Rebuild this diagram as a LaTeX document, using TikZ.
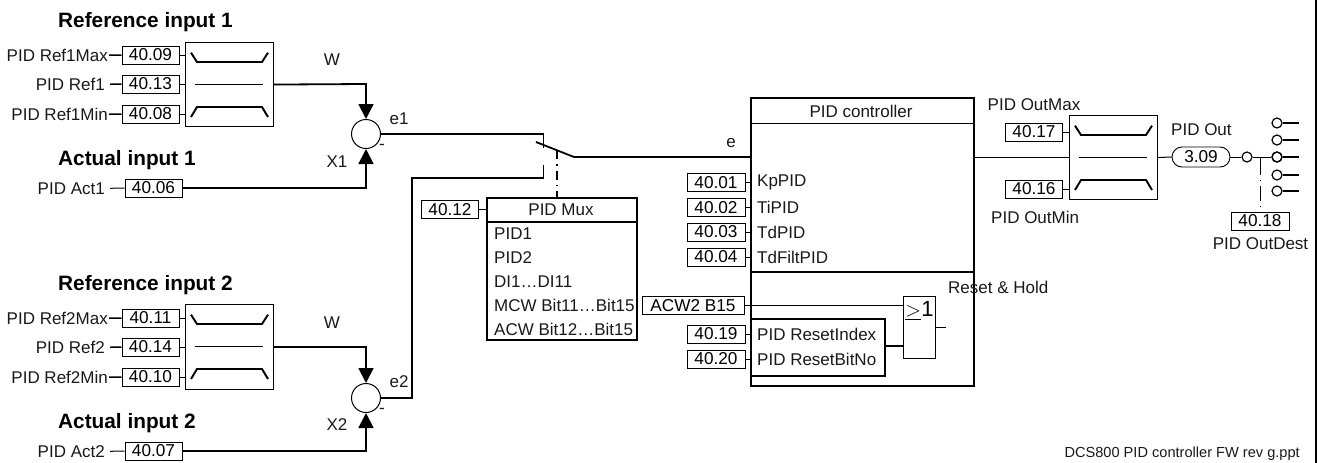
\documentclass[tikz,border=0pt]{standalone}
\usepackage{fontspec}
\setmainfont{Liberation Sans}
\usetikzlibrary{arrows.meta,shapes.misc}
\tikzset{
  x=1pt,y=-1pt,
  lab/.style={inner sep=0pt,font=\fontsize{17}{19}\selectfont,text=black!90},
  title/.style={inner sep=0pt,anchor=west,font=\fontsize{20.8}{23}\bfseries\selectfont},
  parbox/.style={draw,line width=1pt,minimum width=#1,minimum height=18pt,inner sep=0pt,font=\fontsize{17.2}{19}\selectfont,anchor=center},
  parbox/.default=57pt,
  thick line/.style={line width=1.5pt},
  thin line/.style={line width=1pt},
  wire/.style={line width=1.8pt},
  arr/.style={wire,-{Triangle[length=15pt,width=15pt]},shorten >=0pt},
  lim/.style={draw,line width=1.1pt,inner sep=0pt,anchor=north west},
  sumc/.style={circle,draw,line width=1pt,minimum size=29pt,inner sep=0pt},
  pin/.style={circle,draw,line width=1.2pt,minimum size=10pt,inner sep=0pt},
  frame/.style={draw,line width=1.6pt,inner sep=0pt,anchor=north west},
}
\newcommand{\limshape}[2]{%
  \draw[line width=1.9pt] (#1+6,#2+10.7) -- (#1+12,#2+20) -- (#1+77,#2+20) -- (#1+83,#2+10.7);
  \draw[line width=0.7pt] (#1+10,#2+42) -- (#1+78,#2+42);
  \draw[line width=1.9pt] (#1+6,#2+75) -- (#1+12,#2+65) -- (#1+77,#2+65) -- (#1+83,#2+75);
}
\begin{document}
\begin{tikzpicture}
\useasboundingbox (0,0) rectangle (1318,463);
\draw[line width=2pt] (1316,0) -- (1316,463);

% --- group 1
\node[title] (t1) at (58,22) {Reference input 1};
\node[title] (t2) at (58,160) {Actual input 1};
\node[lim,minimum width=88pt,minimum height=84pt] (L1) at (185,42) {};
\limshape{185}{42}
\node[parbox] (p0909) at (150.5,55) {40.09};
\node[parbox] (p0913) at (150.5,84) {40.13};
\node[parbox] (p0908) at (150.5,114) {40.08};
\node[parbox] (p0906) at (153.5,188) {40.06};
\node[lab,anchor=east] (l0909) at (108,55.5) {PID Ref1Max};
\node[lab,anchor=east] (l0913) at (105,84.5) {PID Ref1};
\node[lab,anchor=east] (l0908) at (108,114.5) {PID Ref1Min};
\node[lab,anchor=east] (l0906) at (105,188.5) {PID Act1};
\draw[thick line,shorten <=1pt] (l0909) -- (p0909);
\draw[thick line,shorten <=5pt] (l0913) -- (p0913);
\draw[thick line,shorten <=1pt] (l0908) -- (p0908);
\draw[thin line,shorten <=5pt] (l0906) -- (p0906);
\draw[thin line] (p0909.east) -- (185,55);
\draw[thin line] (p0913.east) -- (185,84);
\draw[thin line] (p0908.east) -- (185,114);
\node[sumc] (S1) at (366,134) {};
\draw[arr] (L1.east) -- (366,84) -- (S1.north);
\draw[arr] (p0906.east) -- (366,188) -- (S1.south);
\node[lab] (w1) at (332,60) {W};
\node[lab] (x1) at (337,162) {X1};
\node[lab] (e1) at (399,119) {e1};
\node[lab] (m1) at (382,147) {-};

% --- group 2
\node[title] (t3) at (58,285) {Reference input 2};
\node[title] (t4) at (58,423) {Actual input 2};
\node[lim,minimum width=88pt,minimum height=85pt] (L2) at (185,304) {};
\limshape{185}{304}
\node[parbox] (p0911) at (150.5,318) {40.11};
\node[parbox] (p0914) at (150.5,347) {40.14};
\node[parbox] (p0910) at (150.5,377) {40.10};
\node[parbox] (p0907) at (153.5,451) {40.07};
\node[lab,anchor=east] (l0911) at (108,318.5) {PID Ref2Max};
\node[lab,anchor=east] (l0914) at (105,347.5) {PID Ref2};
\node[lab,anchor=east] (l0910) at (108,377.5) {PID Ref2Min};
\node[lab,anchor=east] (l0907) at (105,451.5) {PID Act2};
\draw[thick line,shorten <=1pt] (l0911) -- (p0911);
\draw[thick line,shorten <=5pt] (l0914) -- (p0914);
\draw[thick line,shorten <=1pt] (l0910) -- (p0910);
\draw[thin line,shorten <=5pt] (l0907) -- (p0907);
\draw[thin line] (p0911.east) -- (185,318);
\draw[thin line] (p0914.east) -- (185,347);
\draw[thin line] (p0910.east) -- (185,377);
\node[sumc] (S2) at (366,398) {};
\draw[arr] (L2.east) -- (366,347) -- (S2.north);
\draw[arr] (p0907.east) -- (366,451) -- (S2.south);
\node[lab] (w2) at (332,323) {W};
\node[lab] (x2) at (337,425) {X2};
\node[lab] (e2) at (399,382) {e2};
\node[lab] (m2) at (382,411) {-};

% --- switch
\coordinate (cA) at (543.5,134);
\coordinate (cAe) at (543.5,148);
\coordinate (cB) at (543.5,165);
\coordinate (cBl) at (543.5,178);
\coordinate (cBw) at (412,178);
\coordinate (cBs) at (412,398);
\coordinate (sw1) at (536,142);
\coordinate (sw2) at (574,157);
\draw[wire] (S1.east) -- (cA) -- (cAe);
\draw[wire] (S2.east) -- (cBs) -- (cBw) -- (cBl) -- (cB);
\draw[wire] (sw1) -- (sw2);

% --- PID Mux
\node[frame,minimum width=150pt,minimum height=142pt] (M) at (486,197) {};
\draw[line width=1.5pt] (486,222) -- (636,222);
\node[lab] (mt) at (561,210) {PID Mux};
\node[lab,anchor=west] (m1r) at (494,234) {PID1};
\node[lab,anchor=west] (m2r) at (494,257.5) {PID2};
\node[lab,anchor=west] (m3r) at (494,282) {DI1…DI11};
\node[lab,anchor=west] (m4r) at (494,305) {MCW Bit11…Bit15};
\node[lab,anchor=west] (m5r) at (494,329) {ACW Bit12…Bit15};
\node[parbox] (p12) at (450,209.5) {40.12};
\draw[thin line] (p12.east) -- (486,209.5);
\coordinate (sw3) at (557,150);
\draw[line width=1.1pt,dash pattern=on 9pt off 5pt on 1.5pt off 5pt] (sw3) -- (557,197);

% --- PID controller
\node[frame,minimum width=223pt,minimum height=288pt] (C) at (750,97) {};
\draw[line width=1.5pt] (750,123.5) -- (973,123.5);
\draw[line width=1.5pt] (750,272) -- (973,272);
\node[lab] (ct) at (861,111) {PID controller};
\node[lab] (ce) at (731,143) {e};
\draw[wire] (sw2) -- (750,157);
\foreach \n/\v/\y/\t in {a/40.01/182.5/KpPID,b/40.02/207.5/TiPID,c/40.03/232/TdPID,d/40.04/257/TdFiltPID,e/40.19/334/PID ResetIndex,f/40.20/359/PID ResetBitNo}{
  \node[parbox=58pt] (q\n) at (716,\y) {\v};
  \draw[thin line] (q\n.east) -- (750,\y);
  \node[lab,anchor=west] (r\n) at (757,\y) {\t};
}
\node[parbox=102pt] (acw) at (693,305.5) {ACW2 B15};
\node[frame,minimum width=134pt,minimum height=57pt] (R) at (750,318) {};
\node[draw,line width=1pt,minimum width=32pt,minimum height=62pt,inner sep=0pt,anchor=north west] (G) at (903,296) {};
\node[inner sep=0pt,font=\fontsize{22}{24}\selectfont] (gt) at (919.5,310.5) {$\underline{>}$1};
\coordinate (gi1) at (903,305.5);
\coordinate (gi2) at (903,346);
\coordinate (go) at (946,327);
\draw[wire] (acw.east) -- (gi1);
\draw[wire] (884,346) -- (gi2);
\draw[thin line] (G.east) -- (G.east -| go);
\node[lab,anchor=west] (rh) at (948,287) {Reset \& Hold};

% --- output
\node[lim,minimum width=88pt,minimum height=84pt] (L3) at (1069,115) {};
\limshape{1069}{115}
\draw[wire] (C.east |- L3.west) -- (L3.west);
\node[parbox] (p17) at (1034,132) {40.17};
\node[parbox] (p16) at (1034,189) {40.16};
\draw[thin line] (p17.east) -- (1069,132);
\draw[thin line] (p16.east) -- (1069,189);
\node[lab,anchor=west] (omax) at (987.5,105) {PID OutMax};
\node[lab,anchor=west] (omin) at (991,217) {PID OutMin};
\node[lab,anchor=west] (oo) at (1171,130) {PID Out};
\node[draw,rounded rectangle,line width=0.9pt,minimum width=58pt,minimum height=20pt,inner sep=0pt,font=\fontsize{17.2}{19}\selectfont] (E) at (1201,157) {3.09};
\draw[thin line] (L3.east) -- (E.west);
\node[pin] (P0) at (1247,157) {};
\node[pin] (P3) at (1277,157) {};
\draw[thin line] (E.east) -- (P0.west);
\draw[thin line] (P0.east) -- (P3.west);
\foreach \n/\y in {P1/123,P2/140,P3x/157,P4/175,P5/191}{
  \node[pin] (\n) at (1277,\y) {};
  \coordinate (\n e) at (1299,\y);
  \draw[thick line] (\n.east) -- (\n e);
}
\node[parbox=58pt] (p18) at (1260,221) {40.18};
\coordinate (dd) at (1260,157);
\draw[line width=0.9pt,dash pattern=on 18pt off 5pt on 1pt off 5pt on 15pt off 5pt on 1pt off 5pt] (dd) -- (p18.north);
\node[lab] (od) at (1260.5,244) {PID OutDest};
\node[inner sep=0pt,anchor=east,font=\fontsize{14.6}{16}\selectfont,text=black!90] (fn) at (1300,454) {DCS800 PID controller FW rev g.ppt};
\end{tikzpicture}
\end{document}
